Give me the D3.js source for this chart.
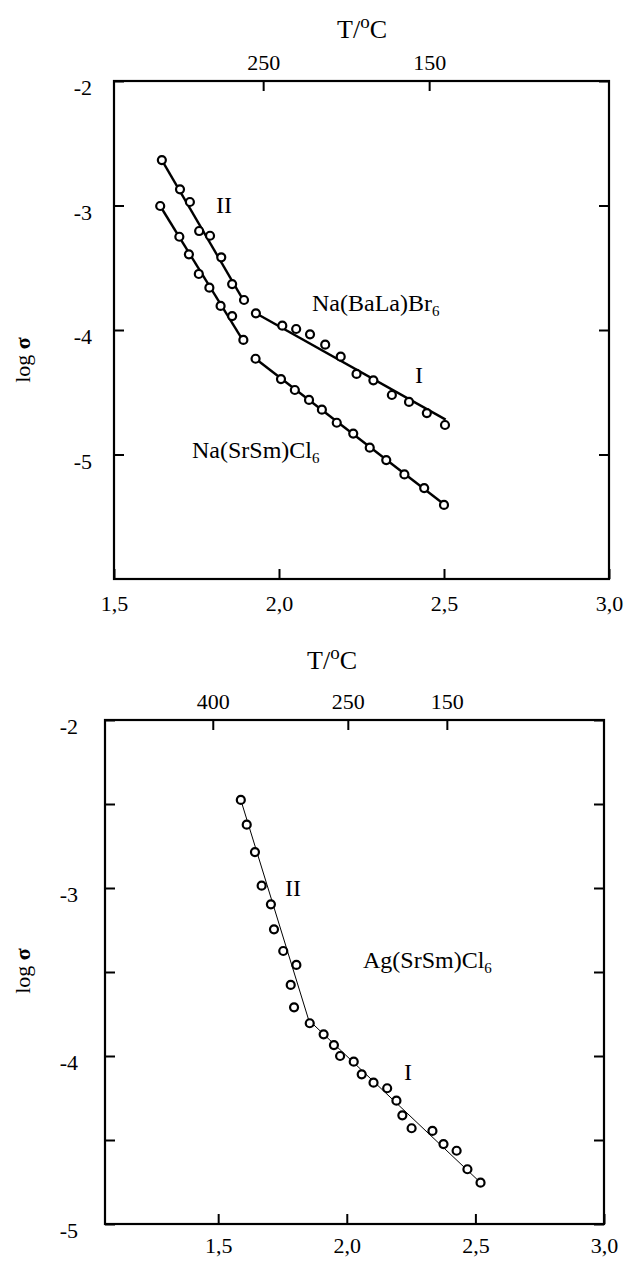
<!DOCTYPE html>
<html><head><meta charset="utf-8">
<script src="https://cdn.jsdelivr.net/npm/d3@7"></script>
<style>
body{margin:0;background:#fff;}
svg{display:block;}
text{font-family:"Liberation Serif","Times New Roman",serif;fill:#000;}
</style></head><body>
<svg id="c" width="633" height="1262"></svg>
<script>
// ---------- axis data ----------
const xTickValues = [1.5, 2.0, 2.5, 3.0];
const xTickLabels = ["1,5", "2,0", "2,5", "3,0"];
const topTempLabels1 = ["250", "150"];
const topTempAt1 = [1.952, 2.455];
const yTickValues1 = [-2, -3, -4, -5];
const yTickLabels1 = ["-2", "-3", "-4", "-5"];
const topTempLabels2 = ["400", "250", "150"];
const topTempAt2 = [1.479, 2.004, 2.389];
const yTickValues2 = [-2, -2.5, -3, -3.5, -4, -4.5, -5];
const yTickLabels2 = ["-2", "", "-3", "", "-4", "", "-5"];

// ---------- series data: Na(BaLa)Br6 ----------
const baLaII_x = [1.645, 1.700, 1.730, 1.758, 1.791, 1.825, 1.858, 1.894];
const baLaII_y = [-2.635, -2.870, -2.972, -3.205, -3.243, -3.416, -3.631, -3.759];
const baLaI_x = [1.930, 2.010, 2.052, 2.094, 2.140, 2.187, 2.235, 2.286, 2.342, 2.394, 2.448, 2.503];
const baLaI_y = [-3.866, -3.965, -3.992, -4.035, -4.118, -4.214, -4.353, -4.404, -4.522, -4.578, -4.667, -4.763];
const baLaFitII = [[1.645, -2.635], [1.894, -3.77]];
const baLaFitI = [[1.930, -3.866], [2.505, -4.72]];

// ---------- series data: Na(SrSm)Cl6 ----------
const srSmII_x = [1.640, 1.698, 1.727, 1.757, 1.789, 1.823, 1.858, 1.892];
const srSmII_y = [-3.004, -3.251, -3.392, -3.550, -3.660, -3.807, -3.888, -4.080];
const srSmI_x = [1.929, 2.006, 2.048, 2.091, 2.130, 2.175, 2.225, 2.275, 2.325, 2.380, 2.440, 2.500];
const srSmI_y = [-4.231, -4.394, -4.482, -4.562, -4.640, -4.745, -4.832, -4.945, -5.045, -5.160, -5.270, -5.405];
const srSmFitII = [[1.640, -3.004], [1.892, -4.09]];
const srSmFitI = [[1.929, -4.231], [2.50, -5.40]];

// ---------- series data: Ag(SrSm)Cl6 ----------
const agII_x = [1.588, 1.611, 1.643, 1.669, 1.705, 1.717, 1.753, 1.804, 1.782, 1.795];
const agII_y = [-2.476, -2.623, -2.786, -2.986, -3.097, -3.246, -3.375, -3.458, -3.577, -3.710];
const agI_x = [1.856, 1.910, 1.950, 1.974, 2.027, 2.058, 2.104, 2.157, 2.193, 2.216, 2.252, 2.333, 2.376, 2.427, 2.469, 2.520];
const agI_y = [-3.805, -3.871, -3.935, -4.000, -4.034, -4.109, -4.159, -4.192, -4.266, -4.353, -4.430, -4.446, -4.524, -4.564, -4.674, -4.754];
const agFit = [[1.588, -2.476], [1.852, -3.786], [2.52, -4.754]];

const svg = d3.select("#c");
svg.append("rect").attr("width", 633).attr("height", 1262).attr("fill", "#fff");

function zip(xs, ys) { return xs.map((x, i) => [x, ys[i]]); }

function panel(cfg) {
  const x = d3.scaleLinear().domain(cfg.xDomain).range([cfg.left, cfg.right]);
  const y = d3.scaleLinear().domain(cfg.yDomain).range([cfg.bottom, cfg.top]);
  const g = svg.append("g");
  const tick = 10;

  const xb = g.append("g").attr("transform", `translate(0,${cfg.bottom})`)
    .call(d3.axisBottom(x).tickValues(cfg.xTicks).tickSize(-tick).tickPadding(cfg.xPad)
      .tickFormat((d, i) => xTickLabels[i]));
  const xt = g.append("g").attr("transform", `translate(0,${cfg.top})`)
    .call(d3.axisTop(x).tickValues(cfg.topAt).tickSize(-tick).tickPadding(cfg.topPad)
      .tickFormat((d, i) => cfg.topLabels[i]));
  const yl = g.append("g").attr("transform", `translate(${cfg.left},0)`)
    .call(d3.axisLeft(y).tickValues(cfg.yTicks).tickSize(-tick).tickPadding(cfg.yPad)
      .tickFormat((d, i) => cfg.yLabels[i]));
  const yr = g.append("g").attr("transform", `translate(${cfg.right},0)`)
    .call(d3.axisRight(y).tickValues(cfg.yTicks).tickSize(-tick).tickFormat(""));

  [xb, xt, yl, yr].forEach(a => {
    a.select(".domain").remove();
    a.selectAll(".tick line").attr("stroke", "#000").attr("stroke-width", 2);
    a.selectAll(".tick text").attr("font-size", 22)
      .attr("font-family", "'Liberation Serif','Times New Roman',serif").attr("fill", "#000");
  });
  yl.selectAll(".tick text").attr("dy", "0.62em");

  g.append("rect").attr("x", cfg.left).attr("y", cfg.top)
    .attr("width", cfg.right - cfg.left).attr("height", cfg.bottom - cfg.top)
    .attr("fill", "none").attr("stroke", "#000").attr("stroke-width", 2.2);

  const line = d3.line().x(d => x(d[0])).y(d => y(d[1]));
  cfg.fits.forEach(f => {
    g.append("path").attr("d", line(f)).attr("fill", "none")
      .attr("stroke", "#000").attr("stroke-width", cfg.fitWidth);
  });
  cfg.series.forEach(s => {
    g.selectAll(null).data(s).enter().append("circle")
      .attr("cx", d => x(d[0])).attr("cy", d => y(d[1])).attr("r", 4)
      .attr("fill", "#fff").attr("stroke", "#000").attr("stroke-width", 2.2);
  });

  const t = g.append("text").attr("x", cfg.titleX).attr("y", cfg.titleY)
    .attr("text-anchor", "middle").attr("font-size", 26);
  t.append("tspan").text("T/");
  t.append("tspan").attr("font-size", 19).attr("dy", -10).text("o");
  t.append("tspan").attr("dy", 10).text("C");

  const ls = g.append("text").attr("transform", `translate(${cfg.logX},${cfg.logY}) rotate(-90)`)
    .attr("text-anchor", "middle").attr("font-size", 22);
  ls.append("tspan").text("log ");
  ls.append("tspan").attr("font-weight", "bold").text("σ");

  cfg.labels.forEach(l => {
    const tx = g.append("text").attr("x", l.x).attr("y", l.y)
      .attr("text-anchor", l.anchor || "start").attr("font-size", 24);
    tx.append("tspan").text(l.text);
    if (l.sub) tx.append("tspan").attr("font-size", 15).attr("dy", 5).text(l.sub);
  });
}

panel({
  xDomain: [1.5, 3.0], yDomain: [-6, -2],
  left: 114, right: 609, top: 81, bottom: 579,
  xTicks: xTickValues, xPad: 16,
  topAt: topTempAt1, topLabels: topTempLabels1, topPad: 11,
  yTicks: yTickValues1, yLabels: yTickLabels1, yPad: 22,
  fits: [baLaFitII, baLaFitI, srSmFitII, srSmFitI], fitWidth: 2.4,
  series: [zip(baLaII_x, baLaII_y), zip(baLaI_x, baLaI_y), zip(srSmII_x, srSmII_y), zip(srSmI_x, srSmI_y)],
  titleX: 362, titleY: 38, logX: 30, logY: 360,
  labels: [
    {text: "II", x: 224, y: 213, anchor: "middle"},
    {text: "Na(BaLa)Br", sub: "6", x: 312, y: 311},
    {text: "I", x: 419, y: 383, anchor: "middle"},
    {text: "Na(SrSm)Cl", sub: "6", x: 192, y: 458}
  ]
});

panel({
  xDomain: [1.06, 3.0], yDomain: [-5, -2],
  left: 105, right: 604, top: 720, bottom: 1224,
  xTicks: xTickValues, xPad: 13,
  topAt: topTempAt2, topLabels: topTempLabels2, topPad: 11,
  yTicks: yTickValues2, yLabels: yTickLabels2, yPad: 27,
  fits: [agFit], fitWidth: 1,
  series: [zip(agII_x, agII_y), zip(agI_x, agI_y)],
  titleX: 332, titleY: 669, logX: 30, logY: 971,
  labels: [
    {text: "II", x: 293, y: 896, anchor: "middle"},
    {text: "Ag(SrSm)Cl", sub: "6", x: 363, y: 968},
    {text: "I", x: 408, y: 1080, anchor: "middle"}
  ]
});
</script>
</body></html>
